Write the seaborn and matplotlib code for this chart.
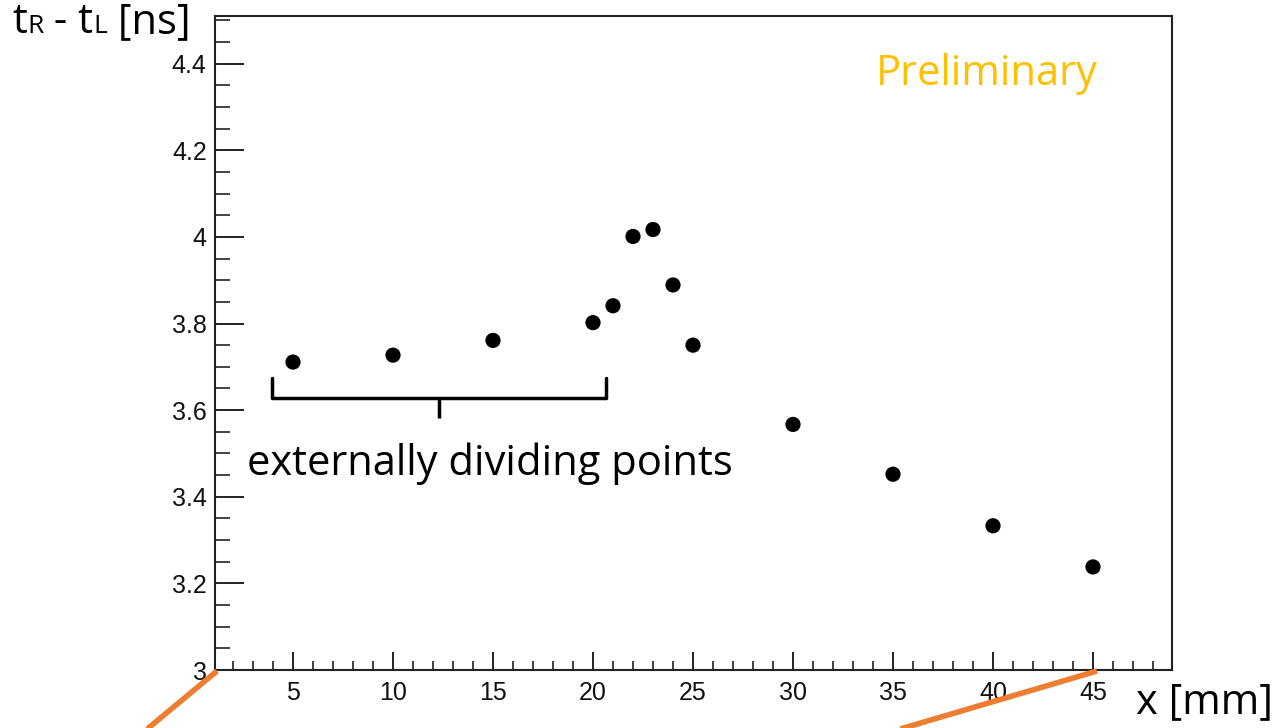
import numpy as np
import pandas as pd
import matplotlib
matplotlib.use("Agg")
import matplotlib.pyplot as plt
import seaborn as sns
from matplotlib.ticker import MultipleLocator, FuncFormatter
from matplotlib.offsetbox import TextArea, HPacker, AnchoredOffsetbox
from matplotlib.lines import Line2D

# position of the source [mm] and measured time difference t_R - t_L [ns]
x_mm = [5, 10, 15, 20, 21, 22, 23, 24, 25, 30, 35, 40, 45]
dt_ns = [3.711, 3.727, 3.761, 3.802, 3.841, 4.001, 4.017, 3.889, 3.750,
         3.567, 3.452, 3.333, 3.238]

# brace over the externally dividing points (data coords)
brace_x = [3.95, 20.65]
brace_y = [3.674, 3.628, 3.582]

df = pd.DataFrame({"x": x_mm, "dt": dt_ns})

sns.set_style("ticks")
plt.rcParams["font.family"] = ["Liberation Sans", "DejaVu Sans"]

fig = plt.figure(figsize=(12.78, 7.28), dpi=100)
ax = fig.add_axes([215 / 1278, 58 / 728, 957 / 1278, 654 / 728])

sns.scatterplot(data=df, x="x", y="dt", ax=ax, color="black", s=120,
                edgecolor="none", legend=False)

ax.set_xlim(1.1, 48.95)
ax.set_ylim(3.0, 4.51)
ax.set_xlabel("")
ax.set_ylabel("")

ax.xaxis.set_major_locator(MultipleLocator(5))
ax.xaxis.set_minor_locator(MultipleLocator(1))
ax.yaxis.set_major_locator(MultipleLocator(0.2))
ax.yaxis.set_minor_locator(MultipleLocator(0.05))
ax.yaxis.set_major_formatter(FuncFormatter(lambda v, p: f"{v:g}"))

ax.tick_params(axis="x", which="major", direction="in", length=13, width=1.4,
               labelsize=18, pad=8, bottom=True, top=False, color="#222222",
               labelcolor="#111111")
ax.tick_params(axis="x", which="minor", direction="in", length=6.5, width=1.2,
               bottom=True, top=False, color="#222222")
ax.tick_params(axis="y", which="major", direction="in", length=21, width=1.4,
               labelsize=18, pad=6, left=True, right=False, color="#222222",
               labelcolor="#111111")
ax.tick_params(axis="y", which="minor", direction="in", length=10.5, width=1.2,
               left=True, right=False, color="#222222")
for sp in ax.spines.values():
    sp.set_visible(True)
    sp.set_linewidth(1.5)
    sp.set_color("#222222")

# brace
bx0, bx1 = brace_x
ytop, ymid, ybot = brace_y
xc = (bx0 + bx1) / 2
ax.plot([bx0, bx0, bx1, bx1], [ytop, ymid, ymid, ytop], color="black", lw=2.5,
        solid_joinstyle="round", solid_capstyle="round")
ax.plot([xc, xc], [ymid, ybot], color="black", lw=2.5, solid_capstyle="butt")

ax.text(xc + 2.55, 3.477, "externally dividing points", ha="center", va="center",
        fontsize=30, family=["Open Sans", "DejaVu Sans"], color="black")

ax.text(0.807, 0.912, "Preliminary", transform=ax.transAxes, ha="center", va="center",
        fontsize=30, family=["Open Sans", "DejaVu Sans"], color="#FFC000")

# y axis title: t_R - t_L [ns] with small-size R and L on the baseline
big = dict(fontsize=30, family=["Open Sans", "DejaVu Sans"], color="black")
small = dict(fontsize=19, family=["Open Sans", "DejaVu Sans"], color="black")
parts = [TextArea("t", textprops=big), TextArea("R", textprops=small),
         TextArea(" - t", textprops=big), TextArea("L", textprops=small),
         TextArea(" [ns]", textprops=big)]
box = HPacker(children=parts, align="baseline", pad=0, sep=0)
anch = AnchoredOffsetbox(loc="upper left", child=box, pad=0, borderpad=0, frameon=False,
                         bbox_to_anchor=(12 / 1278, 1 - 1 / 728),
                         bbox_transform=fig.transFigure)
fig.add_artist(anch)

fig.text(1273 / 1278, 5 / 728, "x [mm]", ha="right", va="bottom",
         fontsize=30, family=["Open Sans", "DejaVu Sans"], color="black")

# orange guide lines
orange = "#ED7D31"
fig.add_artist(Line2D([217 / 1278, 140 / 1278], [1 - 671 / 728, 1 - 735 / 728],
                      color=orange, lw=4, solid_capstyle="butt"))
fig.add_artist(Line2D([1097 / 1278, 880 / 1278], [1 - 671 / 728, 1 - 735 / 728],
                      color=orange, lw=4, solid_capstyle="butt"))

fig.savefig("out.png", dpi=100)
